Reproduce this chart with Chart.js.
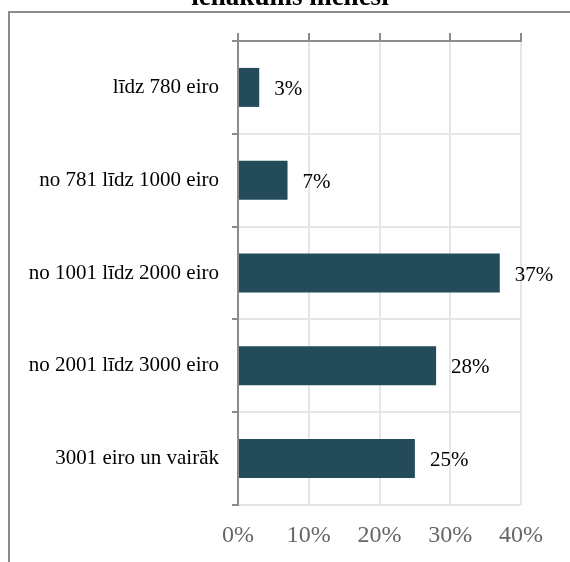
<!DOCTYPE html>
<html>
<head>
<meta charset="utf-8">
<script src="https://cdn.jsdelivr.net/npm/chart.js@4"></script>
<style>
    html, body { margin: 0; padding: 0; background: #fff; }
    #wrap { width: 570px; height: 562px; position: relative; }
</style>
</head>
<body>
<div id="wrap"><canvas id="bar-chart" width="570" height="562"></canvas></div>
<script>
const categories = ["līdz 780 eiro", "no 781 līdz 1000 eiro", "no 1001 līdz 2000 eiro", "no 2001 līdz 3000 eiro", "3001 eiro un vairāk"];
const shares = [3, 7, 37, 28, 25];
const tickValues = [0, 10, 20, 30, 40];
const titleText = "ienākums mēnesī";

const serif = "'Liberation Serif', 'Times New Roman', serif";
const axisGray = "#8c8c8c";
const gridGray = "#e6e6e6";

// frame + clipped title, drawn before the chart
const framePlugin = {
    id: "frame",
    beforeDraw(chart) {
        const ctx = chart.ctx;
        ctx.save();
        ctx.strokeStyle = axisGray;
        ctx.lineWidth = 2;
        ctx.beginPath();
        ctx.moveTo(9, 562);
        ctx.lineTo(9, 12);
        ctx.lineTo(570, 12);
        ctx.stroke();
        ctx.fillStyle = "#000";
        ctx.font = "bold 27px " + serif;
        ctx.textAlign = "center";
        ctx.textBaseline = "alphabetic";
        ctx.fillText(titleText, 290, 5);
        ctx.restore();
    }
};

// percentage labels to the right of each bar
const valueLabels = {
    id: "valueLabels",
    afterDatasetsDraw(chart) {
        const ctx = chart.ctx;
        const meta = chart.getDatasetMeta(0);
        ctx.save();
        ctx.fillStyle = "#000";
        ctx.font = "21px " + serif;
        ctx.textAlign = "left";
        ctx.textBaseline = "middle";
        meta.data.forEach((bar, i) => {
            ctx.fillText(shares[i] + "%", bar.x + 15, bar.y + 2);
        });
        ctx.restore();
    }
};

const chart = new Chart(document.getElementById("bar-chart"), {
    type: "bar",
    data: {
        labels: categories,
        datasets: [{
            data: shares,
            backgroundColor: "#244b59",
            borderWidth: 0,
            barPercentage: 0.42,
            categoryPercentage: 1
        }]
    },
    options: {
        indexAxis: "y",
        responsive: false,
        animation: false,
        layout: { padding: { top: 20, left: 10, right: 49, bottom: 0 } },
        plugins: {
            legend: { display: false },
            tooltip: { enabled: false }
        },
        scales: {
            x: {
                position: "bottom",
                min: 0,
                max: 40,
                afterBuildTicks: (scale) => { scale.ticks = tickValues.map(v => ({ value: v })); },
                afterFit: (scale) => { scale.height = 57; },
                ticks: {
                    callback: (v) => v + "%",
                    color: "#666",
                    font: { family: serif, size: 24 },
                    padding: 16,
                    maxRotation: 0
                },
                grid: { color: gridGray, lineWidth: 2, drawTicks: false },
                border: { display: false }
            },
            x2: {
                type: "linear",
                position: "top",
                min: 0,
                max: 40,
                afterBuildTicks: (scale) => { scale.ticks = tickValues.map(v => ({ value: v })); },
                afterFit: (scale) => { scale.height = 21; },
                ticks: { display: false },
                grid: { drawOnChartArea: false, tickLength: 8, tickColor: axisGray, lineWidth: 2 },
                border: { color: axisGray, width: 2 }
            },
            y: {
                offset: true,
                afterFit: (scale) => { scale.width = 228; },
                ticks: {
                    color: "#000",
                    font: { family: serif, size: 21 },
                    padding: 13
                },
                grid: { offset: true, color: gridGray, lineWidth: 2, tickLength: 6, tickColor: axisGray },
                border: { color: axisGray, width: 2 }
            }
        }
    },
    plugins: [framePlugin, valueLabels]
});
</script>
</body>
</html>
